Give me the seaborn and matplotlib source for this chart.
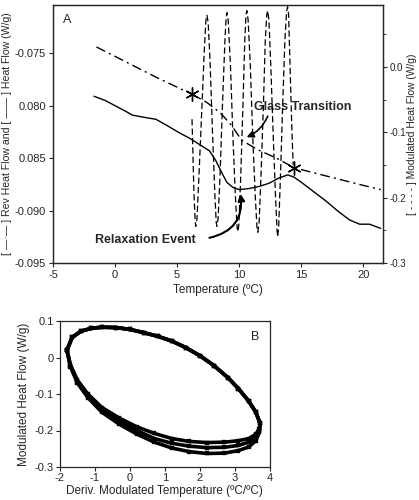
import numpy as np
import pandas as pd
import matplotlib
matplotlib.use("Agg")
import matplotlib.pyplot as plt
import seaborn as sns

# Panel A - reversing heat flow (dash-dot), left axis
rev_t = [-1.5, 1.0, 3.5, 6.2, 7.4, 8.5, 9.4, 10.2, 11.5, 13.0, 14.4, 16.0, 18.0, 20.0, 21.4]
rev_hf = [-0.0744, -0.0759, -0.0774, -0.0789, -0.0797, -0.0807, -0.0819, -0.0833, -0.0842, -0.0850,
          -0.0859, -0.0864, -0.0870, -0.0876, -0.0880]

# Panel A - total heat flow (solid), left axis
tot_t = [-1.7, -0.8, 0.0, 0.8, 1.4, 2.3, 3.3, 4.2, 5.2, 6.0, 6.8, 7.6, 8.1, 8.6, 9.0, 9.5, 10.0,
         10.8, 11.6, 12.4, 13.2, 13.9, 14.4, 15.0, 16.0, 17.0, 18.0, 18.9, 19.7, 20.5, 21.4]
tot_hf = [-0.0791, -0.0795, -0.0800, -0.0805, -0.0809, -0.0811, -0.0813, -0.0819, -0.0826, -0.0831,
          -0.0837, -0.0843, -0.0852, -0.0864, -0.0873, -0.0878, -0.0880, -0.0879, -0.0877, -0.0874,
          -0.0869, -0.0866, -0.0868, -0.0873, -0.0882, -0.0891, -0.0901, -0.0909, -0.0913, -0.0913,
          -0.0917]

# Panel A - modulated heat flow (dashed), right axis
mod_t = [6.2, 6.35, 6.45, 6.5, 6.6, 6.75, 7.0, 7.2, 7.32, 7.4, 7.5, 7.65, 7.85, 8.05, 8.15, 8.2,
         8.3, 8.45, 8.65, 8.85, 8.95, 9.02, 9.12, 9.3, 9.5, 9.7, 9.83, 9.9, 9.98, 10.12, 10.3, 10.45,
         10.55, 10.62, 10.72, 10.9, 11.1, 11.3, 11.43, 11.5, 11.6, 11.75, 11.95, 12.1, 12.22, 12.3,
         12.4, 12.55, 12.75, 12.93, 13.05, 13.1, 13.18, 13.32, 13.5, 13.68, 13.82, 13.9, 13.98,
         14.1, 14.25, 14.35]
mod_hf = [-0.08, -0.19, -0.235, -0.244, -0.232, -0.17, -0.06, 0.03, 0.072, 0.079, 0.068, 0.01,
          -0.10, -0.20, -0.238, -0.244, -0.232, -0.17, -0.06, 0.04, 0.076, 0.083, 0.07, 0.0, -0.11,
          -0.20, -0.245, -0.252, -0.24, -0.17, -0.06, 0.04, 0.08, 0.086, 0.072, 0.0, -0.11, -0.20,
          -0.245, -0.253, -0.24, -0.17, -0.06, 0.04, 0.08, 0.086, 0.07, 0.0, -0.11, -0.20, -0.25,
          -0.26, -0.245, -0.17, -0.06, 0.04, 0.085, 0.092, 0.08, 0.0, -0.10, -0.15]

star_t = [6.2, 14.4]
star_hf = [-0.0789, -0.0859]

# Panel B - Lissajous loops (deriv. modulated temperature vs modulated heat flow)
upper_x = [-1.8, -1.65, -1.4, -1.1, -0.8, -0.4, 0.0, 0.4, 0.8, 1.2, 1.6, 2.0, 2.4, 2.8, 3.1, 3.4,
           3.6, 3.72]
upper_y = [0.02, 0.055, 0.072, 0.08, 0.083, 0.082, 0.077, 0.068, 0.058, 0.045, 0.027, 0.005,
           -0.022, -0.055, -0.085, -0.12, -0.15, -0.18]
lower_x = [3.7, 3.6, 3.4, 3.1, 2.7, 2.2, 1.7, 1.2, 0.7, 0.2, -0.3, -0.8, -1.2, -1.5, -1.7, -1.8]
lower_y1 = [-0.205, -0.228, -0.245, -0.255, -0.262, -0.263, -0.258, -0.248, -0.232, -0.21, -0.183,
            -0.15, -0.11, -0.07, -0.025, 0.02]
lower_y2 = [-0.2, -0.218, -0.232, -0.241, -0.246, -0.247, -0.243, -0.235, -0.222, -0.2, -0.175,
            -0.143, -0.105, -0.066, -0.022, 0.02]
lower_y3 = [-0.195, -0.21, -0.222, -0.228, -0.232, -0.233, -0.23, -0.222, -0.208, -0.19, -0.166,
            -0.137, -0.1, -0.062, -0.02, 0.02]

sns.set_style("ticks")
plt.rcParams['font.family'] = ['Liberation Sans', 'DejaVu Sans']
plt.rcParams['axes.unicode_minus'] = False
plt.rcParams['xtick.labelsize'] = 8
plt.rcParams['ytick.labelsize'] = 8

fig = plt.figure(figsize=(4.19, 5.0), dpi=100)
ax = fig.add_axes([0.1265, 0.474, 0.788, 0.516])
ax2 = ax.twinx()

rev_df = pd.DataFrame({"t": rev_t, "hf": rev_hf})
tot_df = pd.DataFrame({"t": tot_t, "hf": tot_hf})
mod_df = pd.DataFrame({"t": mod_t, "hf": mod_hf})

sns.lineplot(data=rev_df, x="t", y="hf", ax=ax, color="black", lw=1.0, sort=False,
             estimator=None, linestyle=(0, (7, 3, 1.5, 3)))
sns.lineplot(data=tot_df, x="t", y="hf", ax=ax, color="black", lw=1.0, sort=False, estimator=None)
sns.lineplot(data=mod_df, x="t", y="hf", ax=ax2, color="black", lw=0.9, sort=False,
             estimator=None, linestyle=(0, (5, 2.5)))
ax.plot(star_t, star_hf, linestyle="none", marker=(6, 2, 0), ms=10, mec="black", mew=1.0)

ax.set_xlim(-5, 21.6)
ax.set_ylim(-0.095, -0.0704)
ax.set_yticks([-0.075, -0.080, -0.085, -0.090, -0.095])
ax.set_yticklabels(["-0.075", "0.080", "0.085", "-0.090", "-0.095"])
ax.set_xticks([-5, 0, 5, 10, 15, 20])
ax2.set_ylim(-0.3, 0.0947)
ax2.set_yticks([0.0, -0.1, -0.2, -0.3])
ax2.set_yticklabels(["0.0", "-0.1", "-0.2", "-0.3"])
ax2.set_yticks([0.05, -0.05, -0.15, -0.25], minor=True)

ax.set_xlabel("Temperature (\u00baC)", fontsize=8.5, labelpad=3)
ax.set_ylabel("[ \u2014\u00b7\u2014 ] Rev Heat Flow and [ \u2014\u2014 ] Heat Flow (W/g)", fontsize=7.6,
              labelpad=2)
ax2.set_ylabel("[ - - - - ] Modulated Heat Flow (W/g)", fontsize=7.4, labelpad=1)

ax.text(0.03, 0.965, "A", transform=ax.transAxes, fontsize=9, va="top", ha="left")
ax.text(11.2, -0.0801, "Glass Transition", fontsize=9, fontweight="bold", ha="left", va="center")
ax.annotate("", xy=(10.6, -0.0830), xytext=(12.3, -0.0810),
            arrowprops=dict(arrowstyle="-|>", color="black", lw=1.2,
                            connectionstyle="arc3,rad=-0.2", shrinkA=0, shrinkB=0))
ax.text(-1.6, -0.0928, "Relaxation Event", fontsize=9, fontweight="bold", ha="left", va="center")
ax.annotate("", xy=(10.1, -0.0884), xytext=(7.6, -0.0926),
            arrowprops=dict(arrowstyle="-|>", color="black", lw=1.5,
                            connectionstyle="arc3,rad=0.45", shrinkA=0, shrinkB=0))

for a in (ax, ax2):
    a.tick_params(direction="out", length=3, width=0.8, pad=2)
    for s in a.spines.values():
        s.set_linewidth(0.9)
ax2.tick_params(axis="y", labelsize=7, pad=1.5)

# Panel B
bx = fig.add_axes([0.143, 0.066, 0.501, 0.292])
for ly in (lower_y1, lower_y2, lower_y3):
    loop_df = pd.DataFrame({"x": upper_x + lower_x, "y": upper_y + ly})
    sns.lineplot(data=loop_df, x="x", y="y", ax=bx, color="black", lw=2.6, sort=False,
                 estimator=None)
    sns.scatterplot(data=loop_df, x="x", y="y", ax=bx, color="black", s=8, marker="s",
                    edgecolor="black")
bx.set_xlim(-2, 4)
bx.set_ylim(-0.3, 0.1)
bx.set_xticks([-2, -1, 0, 1, 2, 3, 4])
bx.set_yticks([0.1, 0.0, -0.1, -0.2, -0.3])
bx.set_yticklabels(["0.1", "0", "-0.1", "-0.2", "-0.3"])
bx.set_xlabel("Deriv. Modulated Temperature (\u00baC/\u00baC)", fontsize=8.5, labelpad=1)
bx.set_ylabel("Modulated Heat Flow (W/g)", fontsize=8.5, labelpad=3)
bx.text(0.95, 0.93, "B", transform=bx.transAxes, fontsize=9, ha="right", va="top")
bx.tick_params(direction="out", length=3, width=0.8, pad=1.5)
for s in bx.spines.values():
    s.set_linewidth(0.9)

fig.savefig("out.png", dpi=100)
